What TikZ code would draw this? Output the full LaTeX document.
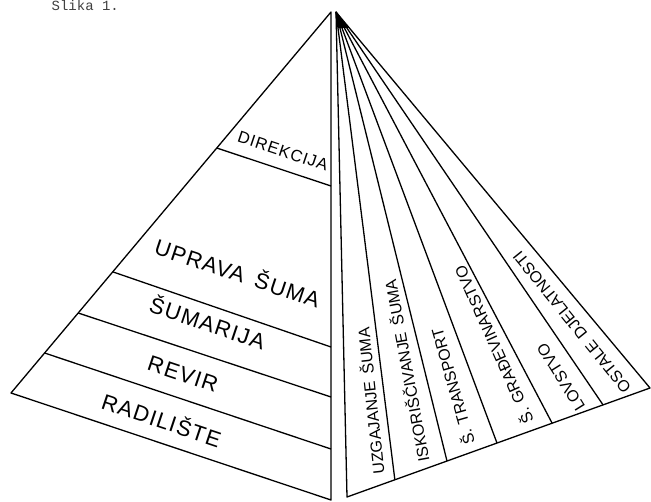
\documentclass[tikz,border=0pt]{standalone}
\usepackage{fontspec}
\setmainfont{Liberation Sans}
\newfontfamily\monof{Liberation Mono}
\newfontfamily\letf[LetterSpace=6]{Liberation Sans}
\usetikzlibrary{calc}
\begin{document}
\begin{tikzpicture}[x=1pt,y=-1pt, line width=1.3pt, line join=round,
  lbl/.style={font=\letf\fontsize{22}{22}\selectfont, inner sep=0pt, rotate=-18.5},
  rlbl/.style={font=\fontsize{16}{16}\selectfont, inner sep=0pt}]
\useasboundingbox (0,0) rectangle (651,502);
% title
\node[font=\monof\fontsize{14}{14}\selectfont, text=black!75, anchor=base west, inner sep=0pt] (title) at (51,10.5) {Slika 1.};
% left face
\coordinate (AL) at (331,12);
\coordinate (BL) at (11,393);
\coordinate (BF) at (331,500);
\draw (AL) -- (BL) -- (BF) -- cycle;
% band lines
\coordinate (l1a) at ($(AL)!0.895!(BL)$);
\coordinate (l1b) at (331,449);
\coordinate (l2a) at ($(AL)!0.790!(BL)$);
\coordinate (l2b) at (331,397);
\coordinate (l3a) at ($(AL)!0.682!(BL)$);
\coordinate (l3b) at (331,347);
\coordinate (l4a) at ($(AL)!0.357!(BL)$);
\coordinate (l4b) at (331,186);
\draw (l1a) -- (l1b);
\draw (l2a) -- (l2b);
\draw (l3a) -- (l3b);
\draw (l4a) -- (l4b);
% left labels
\node[lbl, font=\letf\fontsize{16.5}{16.5}\selectfont] (dir) at (283,151) {DIREKCIJA};
\node[lbl] (upr) at (238,272) {UPRAVA\hspace{4pt} ŠUMA};
\node[lbl] (sum) at (208,322) {ŠUMARIJA};
\node[lbl] (rev) at (183,374) {REVIR};
\node[lbl] (rad) at (162,419) {RADILIŠTE};
% right face
\coordinate (AR) at (336,12);
\coordinate (BR) at (347,497);
\coordinate (CR) at (650,388);
\draw (AR) -- (BR) -- (CR) -- cycle;
\foreach \t/\n in {0.158/f1,0.330/f2,0.495/f3,0.677/f4,0.845/f5}{
  \coordinate (\n) at ($(BR)!\t!(CR)$);
  \draw (AR) -- (\n);
}
\fill (AR) -- (338,28) -- (349,28) -- cycle;
% right labels
\node[rlbl, rotate=96] (r1) at (370,401) {UZGAJANJE\hspace{3pt} ŠUMA};
\node[rlbl, rotate=100.5] (r2) at (406,371) {ISKORIŠČIVANJE\hspace{3pt} ŠUMA};
\node[rlbl, rotate=106] (r3) at (452,387) {Š.\hspace{2pt} TRANSPORT};
\node[rlbl, rotate=114] (r4) at (493,345) {Š.\hspace{2pt} GRAĐEVINARSTVO};
\node[rlbl, rotate=122] (r5) at (561,377) {LOVSTVO};
\node[rlbl, rotate=129] (r6) at (572,322) {OSTALE\hspace{3pt} DJELATNOSTI};
\end{tikzpicture}
\end{document}
